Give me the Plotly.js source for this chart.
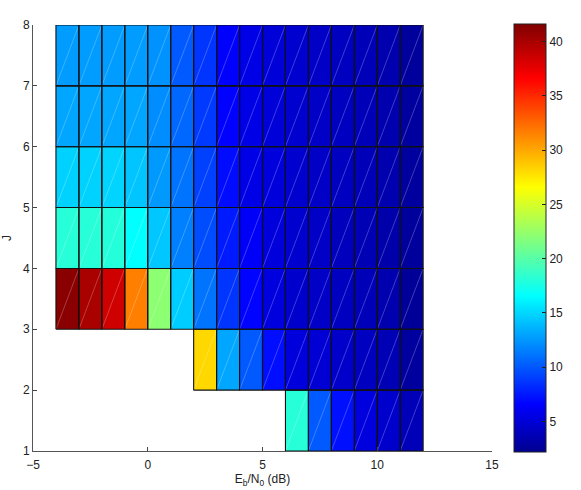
<!DOCTYPE html>
<html>
<head>
<meta charset="utf-8">
<script src="https://cdn.plot.ly/plotly-3.0.1.min.js"></script>
<style>html,body{margin:0;padding:0;background:#fff;}#chart{width:581px;height:490px;}</style>
</head>
<body>
<div id="chart"></div>
<script>
// Cell edges (Eb/N0 in dB, J)
var xEdges = [-4,-3,-2,-1,0,1,2,3,4,5,6,7,8,9,10,11,12];
var yEdges = [1,2,3,4,5,6,7,8];

// Values per row (row J=1..2 first), 16 columns from Eb/N0=-4 to 11
var rowJ1 = [null,null,null,null,null,null,null,null,null,null,18.1,10.1,7.2,5.3,4.6,3.8];
var rowJ2 = [null,null,null,null,null,null,28.1,13.1,10.1,7.1,5.2,4.9,4.5,4.1,3.7,2.8];
var rowJ3 = [41.2,40.0,38.5,31.6,22.1,14.6,11.1,8.6,6.7,5.3,4.6,4.4,4.1,3.8,3.4,2.6];
var rowJ4 = [18.1,18.1,18.0,16.6,14.4,11.6,9.6,7.6,6.3,5.2,4.7,4.4,4.0,3.7,3.3,2.7];
var rowJ5 = [14.8,14.8,14.9,14.3,12.6,11.1,9.1,7.0,5.6,5.2,4.7,4.4,4.1,3.8,3.4,2.8];
var rowJ6 = [13.1,13.1,13.1,13.1,12.1,10.6,8.8,6.6,5.6,5.1,4.7,4.4,4.1,3.8,3.4,2.8];
var rowJ7 = [12.7,12.7,12.7,12.7,12.3,10.1,8.6,6.5,5.6,5.1,4.7,4.4,4.1,3.8,3.4,2.7];

var xTicks = [-5,0,5,10,15];
var yTicks = [1,2,3,4,5,6,7,8];
var cbTicks = [5,10,15,20,25,30,35,40];

var z = [rowJ1,rowJ2,rowJ3,rowJ4,rowJ5,rowJ6,rowJ7];

var jet = [[0,'rgb(0,0,143)'],[0.111,'rgb(0,0,255)'],[0.365,'rgb(0,255,255)'],
           [0.619,'rgb(255,255,0)'],[0.873,'rgb(255,0,0)'],[1,'rgb(128,0,0)']];

// Build cell outlines and diagonals from the data grid
var bx = [], by = [], dx = [], dy = [];
for (var r = 0; r < z.length; r++) {
  for (var c = 0; c < z[r].length; c++) {
    if (z[r][c] === null) continue;
    var x0 = xEdges[c], x1 = xEdges[c+1], y0 = yEdges[r], y1 = yEdges[r+1];
    bx.push(x0,x1,x1,x0,x0,null); by.push(y0,y0,y1,y1,y0,null);
    dx.push(x0,x1,null); dy.push(y0,y1,null);
  }
}

var fnt = {family:'Liberation Sans, Arial, sans-serif', size:12, color:'#222'};

var data = [
  {type:'heatmap', x:xEdges, y:yEdges, z:z, zsmooth:false,
   colorscale:jet, zmin:2.2, zmax:41.6, hoverinfo:'skip',
   colorbar:{x:1.048, xanchor:'left', y:0.5, yanchor:'middle', len:1.005, lenmode:'fraction',
     thickness:32, thicknessmode:'pixels', outlinewidth:1, outlinecolor:'#222',
     tickvals:cbTicks, ticks:'inside', ticklen:4, tickcolor:'#222',
     tickfont:fnt, xpad:0, ypad:0}},
  {type:'scatter', mode:'lines', x:dx, y:dy, hoverinfo:'skip', showlegend:false,
   line:{color:'rgba(255,255,255,0.3)', width:0.8}},
  {type:'scatter', mode:'lines', x:bx, y:by, hoverinfo:'skip', showlegend:false,
   line:{color:'#111', width:1.1}}
];

var layout = {
  width:581, height:490,
  margin:{l:33, r:89, t:25, b:39},
  paper_bgcolor:'#fff', plot_bgcolor:'#fff',
  showlegend:false,
  xaxis:{range:[-5,15], tickvals:xTicks, ticks:'inside', ticklen:4, tickcolor:'#444',
    showline:true, linecolor:'#555', linewidth:1, showgrid:false, zeroline:false,
    tickfont:fnt, mirror:false, ticklabelstandoff:3,
    title:{text:'E<sub>b</sub>/N<sub>0</sub> (dB)', font:fnt, standoff:0}},
  yaxis:{range:[1,8], tickvals:yTicks, ticks:'inside', ticklen:4, tickcolor:'#444',
    showline:true, linecolor:'#555', linewidth:1, showgrid:false, zeroline:false,
    tickfont:fnt, mirror:false,
    title:{text:'J', font:fnt, standoff:8}}
};

Plotly.newPlot('chart', data, layout, {staticPlot:true, displayModeBar:false});
</script>
</body>
</html>
